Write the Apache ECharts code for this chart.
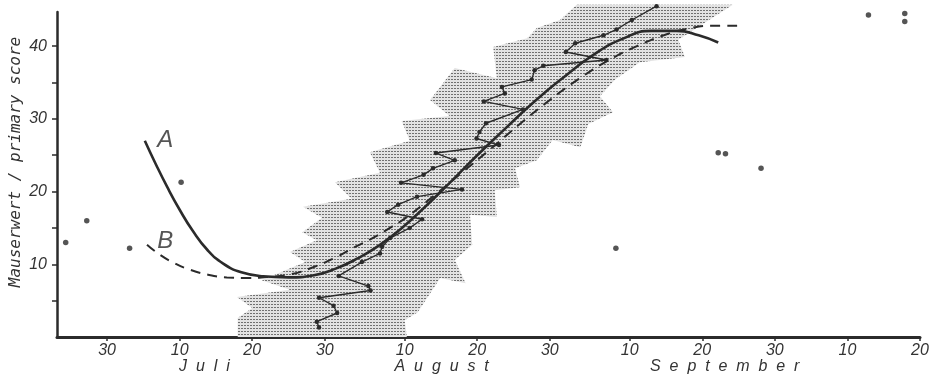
<!DOCTYPE html>
<html><head><meta charset="utf-8">
<script src="https://cdn.jsdelivr.net/npm/echarts@6/dist/echarts.min.js"></script>
<style>html,body{margin:0;padding:0;background:#fff}#c{width:938px;height:379px}</style>
</head><body><div id="c"></div>
<script>
// x values = days after 31 May (29 = 30 Juni, 39 = 10 Juli ... 141 = 20 Oktober)
const xTickValues = [29,39,49,59,70,80,90,101,111,121,131,141];
const xTickLabels = ['30','10','20','30','10','20','30','10','20','30','10','20'];
const yTickValues = [5,10,15,20,25,30,35,40];
const yLabelValues = [10,20,30,40];
const monthNames = ['J  u  l  i','A  u  g  u  s  t','S  e  p  t  e  m  b  e  r'];
const monthCenters = [42.4, 75.1, 114.1];
const yAxisTitle = 'Mauserwert / primary score';

const curveA = [[34.2,27.0],[35.7,23.8],[37.3,20.6],[39.0,17.5],[40.8,14.6],[42.8,12.0],[45.0,10.1],[47.5,8.9],[50.5,8.35],[54.0,8.2],[57.5,8.5],[60.5,9.4],[63.5,10.8],[66.5,12.6],[69.5,14.9],[72.5,17.6],[76.0,21.0],[80.0,25.0],[84.0,28.8],[88.0,32.5],[92.0,35.8],[96.0,38.8],[100.0,41.0],[104.0,42.1],[107.5,42.1],[110.5,41.5],[113.2,40.5]];
const curveB = [[34.5,12.7],[36.3,11.3],[38.2,10.2],[40.0,9.4],[42.8,8.6],[45.5,8.2],[48.5,8.1],[51.0,8.25],[54.2,8.6],[57.4,9.6],[60.6,11.0],[63.0,12.3],[65.2,13.4],[67.8,14.9],[70.3,16.5],[74.0,19.4],[78.0,22.7],[82.0,26.0],[86.0,29.4],[90.0,32.6],[94.0,35.5],[98.0,38.0],[102.0,40.0],[106.0,41.6],[109.0,42.4],[112.0,42.8],[116.2,42.8]];
const observed = [[58.2,1.3],[57.9,2.1],[60.7,3.3],[60.2,4.3],[58.2,5.4],[65.3,6.4],[65.0,7.0],[60.9,8.4],[64.1,10.3],[66.6,11.5],[66.9,12.4],[68.0,13.6],[70.7,15.0],[72.4,16.2],[67.6,17.2],[69.1,18.2],[71.7,19.3],[77.9,20.3],[69.5,21.2],[72.6,22.3],[73.9,23.2],[76.9,24.3],[74.3,25.3],[83.0,26.4],[79.9,27.3],[80.3,28.2],[81.2,29.4],[86.3,31.3],[80.9,32.4],[83.8,33.5],[83.4,34.4],[87.5,35.4],[87.9,36.7],[89.1,37.3],[97.8,38.1],[92.2,39.2],[93.5,40.4],[97.4,41.5],[99.2,42.3],[101.3,43.6],[104.7,45.5]];
const singles = [[23.3,13.0],[26.2,16.0],[32.1,12.2],[39.2,21.3],[99.1,12.2],[113.2,25.35],[114.2,25.2],[119.1,23.2],[133.9,44.3],[138.9,44.5],[138.9,43.4]];
const bandLeft = [[47.0,0],[47.0,2.6],[49.0,4.0],[46.9,5.5],[54.2,6.5],[50.3,7.8],[56.3,10.3],[54.2,11.7],[57.9,13.3],[55.9,14.4],[58.6,16.4],[56.0,17.9],[62.7,19.0],[60.4,21.3],[66.6,22.6],[65.2,25.4],[70.7,27.0],[69.6,29.7],[76.2,30.4],[73.5,32.6],[76.9,37.0],[82.7,35.6],[82.2,39.9],[86.9,41.1],[88.2,42.5],[91.4,43.6],[93.7,45.7]];
const bandRight = [[115.2,45.7],[107.7,40.9],[108.6,38.5],[102.4,37.8],[99.0,35.4],[96.9,33.1],[98.7,30.9],[95.3,29.3],[94.2,26.1],[90.4,27.1],[88.2,24.3],[85.2,23.2],[85.9,20.6],[82.4,20.2],[82.7,16.5],[79.0,16.8],[79.3,12.7],[76.9,10.6],[78.4,7.4],[74.9,8.1],[71.8,3.4],[70.0,2.3],[70.3,0]];
const curveLabels = [[37.0,27.0,'A'],[37.0,13.2,'B']];

// stipple pattern
const pc = document.createElement('canvas');
pc.width = 3; pc.height = 3;
const g = pc.getContext('2d');
g.fillStyle = '#e2e2e2'; g.fillRect(0,0,3,3);
g.fillStyle = '#707070'; g.fillRect(1,1,2,1);

const ink = '#2b2b2b';
const chart = echarts.init(document.getElementById('c'), null, {renderer:'canvas'});
const tickFont = {fontFamily:'Liberation Sans', fontStyle:'italic', fontSize:16, color:'#333'};

chart.setOption({
  animation:false,
  backgroundColor:'#fff',
  grid:{left:57, right:18, top:12, bottom:42},
  xAxis:{type:'value', min:22.1, max:141,
    axisLine:{lineStyle:{color:ink, width:3}},
    axisTick:{show:true, customValues:xTickValues, length:4, lineStyle:{color:ink, width:1.5}},
    axisLabel:Object.assign({customValues:xTickValues, margin:6,
      formatter:v=>{const i=xTickValues.indexOf(Math.round(v)); return i>=0?xTickLabels[i]:'';}}, tickFont),
    splitLine:{show:false}},
  yAxis:{type:'value', min:0, max:44.7,
    axisLine:{show:true, lineStyle:{color:ink, width:2.5}},
    axisTick:{show:true, customValues:yTickValues, length:5, lineStyle:{color:ink, width:1.5}},
    axisLabel:Object.assign({customValues:yLabelValues, margin:10}, tickFont),
    splitLine:{show:false}},
  series:[
    {type:'custom', z:1, clip:false, silent:true, data:[bandLeft[0]],
      renderItem:function(params, api){
        const pts = bandLeft.concat(bandRight).map(p=>api.coord(p));
        return {type:'polygon', shape:{points:pts}, style:{fill:{image:pc, repeat:'repeat'}, stroke:null}};
      }},
    {type:'line', z:3, data:curveA, smooth:0.5, showSymbol:false, lineStyle:{color:ink, width:2.6}, clip:false},
    {type:'line', z:3, data:curveB, smooth:0.5, showSymbol:false, lineStyle:{color:ink, width:2, type:[10,7]}, clip:false},
    {type:'line', z:4, data:observed, smooth:false, symbol:'circle', symbolSize:4.5, showSymbol:true,
      itemStyle:{color:ink}, lineStyle:{color:ink, width:1.4}, clip:false},
    {type:'scatter', z:4, data:singles, symbol:'circle', symbolSize:5.5, itemStyle:{color:ink}, clip:false},
    {type:'scatter', z:5, data:curveLabels, symbolSize:0, clip:false,
      label:{show:true, position:'inside', formatter:p=>p.data[2], fontFamily:'Liberation Sans', fontStyle:'italic', fontSize:24, color:ink}}
  ]
});

const gr = [];
monthNames.forEach((m,i)=>{
  const px = chart.convertToPixel({gridIndex:0}, [monthCenters[i], 0]);
  gr.push({type:'text', x:px[0], y:367, style:{text:m, fontFamily:'Liberation Sans', fontStyle:'italic', fontSize:16, fill:'#333', align:'center', verticalAlign:'middle'}});
});
gr.push({type:'text', x:16, y:162, rotation:Math.PI/2, style:{text:yAxisTitle, fontFamily:'DejaVu Sans Mono', fontStyle:'italic', fontSize:16, fill:'#333', align:'center', verticalAlign:'middle'}});
chart.setOption({graphic:gr});
</script></body></html>
